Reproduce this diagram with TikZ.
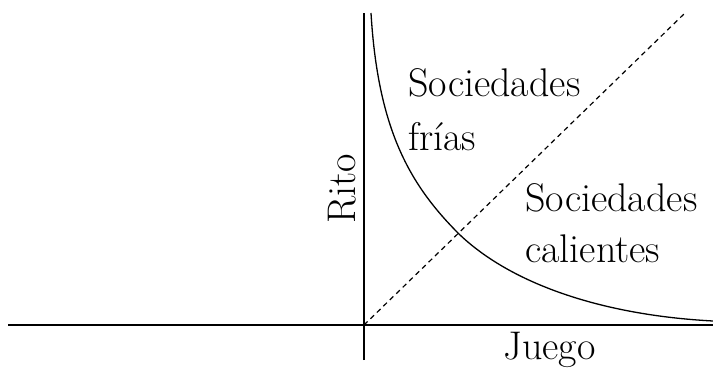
\documentclass[tikz,border=0pt]{standalone}
\usepackage{fontspec}
\usetikzlibrary{positioning}

\begin{document}
\begin{tikzpicture}[
        x=1pt, y=-1pt,
        axis/.style={draw, line width=1.5pt},
        bound/.style={draw, line width=1.3pt},
        diag/.style={draw, line width=1.2pt, dash pattern=on 5pt off 4pt},
        label/.style={anchor=base west, inner sep=0pt, font=\fontsize{40}{48}\selectfont}]
    \useasboundingbox (0,0) rectangle (713,369);
    % axes
    \coordinate (O) at (364,325);
    \coordinate (left) at (8,325);
    \coordinate (right) at (713,325);
    \coordinate (top) at (364,13);
    \coordinate (bottom) at (364,360);
    \coordinate (diagend) at (685,13);
    \path[axis] (left) -- (right);
    \path[axis] (bottom) -- (top);
    % diagonal
    \path[diag] (O) -- (diagend);
    % boundary curve
    \coordinate (cstart) at (371,13);
    \coordinate (cmid) at (459,234);
    \coordinate (cend) at (713,321);
    \path[bound] (cstart) .. controls (378,130) and (410,185) .. (cmid)
        .. controls (510,283) and (600,315) .. (cend);
    % labels
    \node[label] (soc1) at (408,97) {Sociedades};
    \node[label] (frias) at (408,150) {frías};
    \node[label] (soc2) at (525,211) {Sociedades};
    \node[label] (cal) at (525,262) {calientes};
    \node[label, rotate=90] (rito) at (355,224) {Rito};
    \node[label] (juego) at (503,359) {Juego};
\end{tikzpicture}
\end{document}
